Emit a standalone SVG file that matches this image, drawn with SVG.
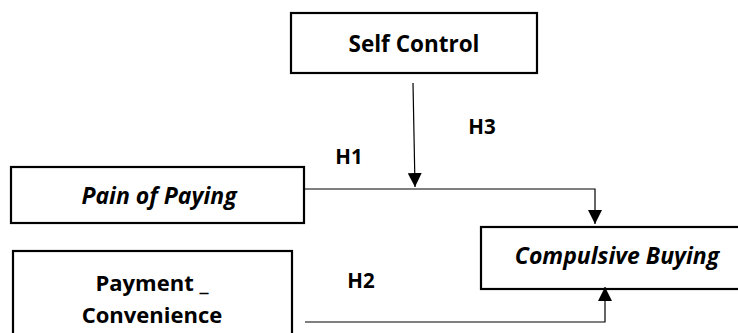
<svg xmlns="http://www.w3.org/2000/svg" width="738" height="333" viewBox="0 0 738 333">
<defs>
<style>
.box{fill:#fff;stroke:#000;stroke-width:2.2}
.t{font-family:"Open Sans","Liberation Sans",sans-serif;font-weight:bold;fill:#000;text-anchor:middle}
.i{font-style:italic}
.h{font-size:20.5px}
.c{fill:none;stroke:#000;stroke-width:1.2}
</style>
<marker id="ah" viewBox="0 0 14 14" refX="14" refY="7" markerWidth="14" markerHeight="14" markerUnits="userSpaceOnUse" orient="auto">
<path d="M0,0 L14,7 L0,14 Z" fill="#000"/>
</marker>
</defs>
<rect width="738" height="333" fill="#fff"/>
<g id="self-control">
<rect class="box" x="291" y="13" width="246" height="60"/>
<text class="t" x="414" y="52" font-size="22.5">Self Control</text>
</g>
<g id="pain-of-paying">
<rect class="box" x="11" y="167" width="293" height="56"/>
<text class="t i" x="159" y="204" font-size="23">Pain of Paying</text>
</g>
<g id="payment-convenience">
<rect class="box" x="13" y="251" width="279" height="95"/>
<text class="t" x="152" y="291" font-size="22">Payment _</text>
<text class="t" x="152" y="323" font-size="22">Convenience</text>
</g>
<g id="compulsive-buying">
<rect class="box" x="481" y="227" width="270" height="62"/>
<text class="t i" x="617" y="264" font-size="23">Compulsive Buying</text>
</g>
<g id="connectors">
<path class="c" d="M413,83 L415,187" marker-end="url(#ah)"/>
<path class="c" d="M304,189 H595 V224" marker-end="url(#ah)"/>
<path class="c" d="M305,322 H605 V287" marker-end="url(#ah)"/>
<text class="t h" x="482" y="134">H3</text>
<text class="t h" x="349" y="164">H1</text>
<text class="t h" x="361" y="288">H2</text>
</g>
</svg>
